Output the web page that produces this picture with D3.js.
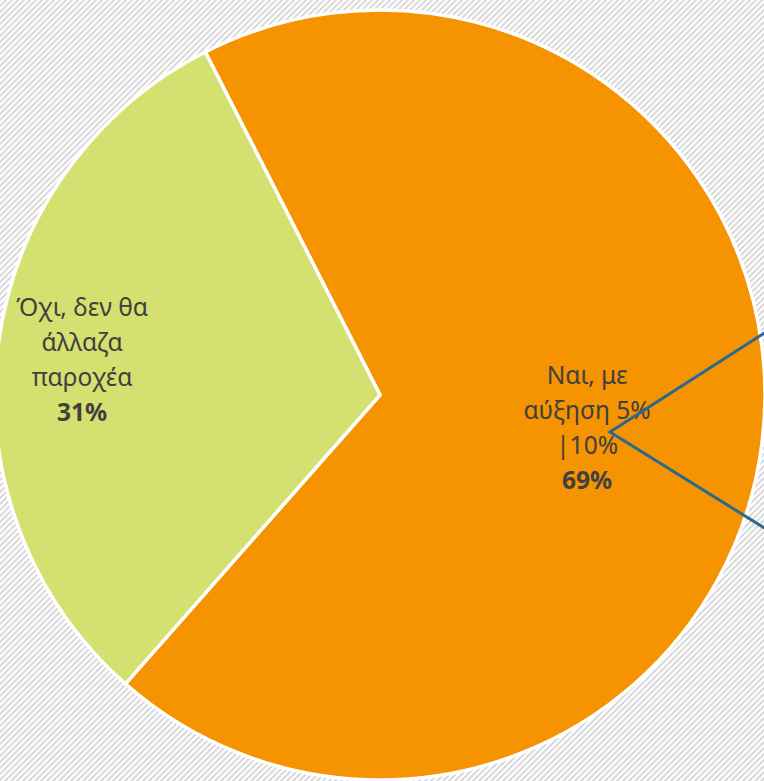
<!DOCTYPE html>
<html>
<head>
<meta charset="utf-8">
<script src="https://cdn.jsdelivr.net/npm/d3@7"></script>
<style>
  html, body { margin: 0; padding: 0; background: #fff; }
  svg { display: block; }
</style>
</head>
<body>
<div id="chart"></div>
<script>
// Chart data
var categories = ["Ναι, με αύξηση 5% |10%", "Όχι, δεν θα άλλαζα παροχέα"];
var values = [69, 31];
var labelLines = [["Ναι, με", "αύξηση 5%", "|10%"], ["Όχι, δεν θα", "άλλαζα", "παροχέα"]];
var colors = ["#f59300", "#d4e06f"];

var svgWidth = 764;
var svgHeight = 781;
var cx = 380, cy = 395, radius = 385;

var svg = d3.select("#chart")
    .append("svg")
    .attr("width", svgWidth)
    .attr("height", svgHeight);

// Hatched background
var defs = svg.append("defs");
var pat = defs.append("pattern")
    .attr("id", "hatch")
    .attr("patternUnits", "userSpaceOnUse")
    .attr("width", 6)
    .attr("height", 6);
pat.append("rect").attr("width", 6).attr("height", 6).attr("fill", "#ffffff");
pat.append("path")
    .attr("d", "M-1,1 l2,-2 M0,6 l6,-6 M5,7 l2,-2")
    .attr("stroke", "#d9d9d9")
    .attr("stroke-width", 2);

svg.append("rect")
    .attr("width", svgWidth)
    .attr("height", svgHeight)
    .attr("fill", "url(#hatch)");

var chartGroup = svg.append("g")
    .attr("transform", `translate(${cx}, ${cy})`);

var pie = d3.pie()
    .sort(null)
    .startAngle(-27 * Math.PI / 180)
    .endAngle(333 * Math.PI / 180);

var arc = d3.arc().innerRadius(0).outerRadius(radius);

var arcs = pie(values);

chartGroup.selectAll("path.slice")
    .data(arcs)
    .enter()
    .append("path")
    .attr("class", "slice")
    .attr("d", arc)
    .attr("fill", (d, i) => colors[i])
    .attr("stroke", "#ffffff")
    .attr("stroke-width", 3.5)
    .attr("stroke-linejoin", "miter");

// Label placement (radius fraction along mid angle, and nudge)
var labelRadius = [0.55, 0.78];
var labelNudge = [[-3, 7], [0, 3]];
var fontSize = 24.5;
var lineH = 35;

arcs.forEach(function(d, i) {
    var mid = (d.startAngle + d.endAngle) / 2;
    var r = radius * labelRadius[i];
    var x = Math.sin(mid) * r + labelNudge[i][0];
    var y = -Math.cos(mid) * r + labelNudge[i][1];
    var lines = labelLines[i].concat([values[i] + "%"]);
    var t = chartGroup.append("text")
        .attr("text-anchor", "middle")
        .attr("font-family", "'Noto Sans', 'Open Sans', sans-serif")
        .attr("font-size", fontSize)
        .attr("fill", "#404040");
    lines.forEach(function(line, j) {
        t.append("tspan")
            .attr("x", x)
            .attr("y", y + (j - (lines.length - 1) / 2) * lineH + 8)
            .attr("font-weight", j === lines.length - 1 ? "bold" : "normal")
            .text(line);
    });
});

// Blue callout lines (annotation shape)
var vertex = [610 - cx, 432 - cy];
var callout = d3.line();
chartGroup.append("path")
    .attr("d", callout([[svgWidth - cx + 2, 332 - cy], vertex, [svgWidth - cx + 2, 529 - cy]]))
    .attr("fill", "none")
    .attr("stroke", "#2b6a8e")
    .attr("stroke-width", 3);
</script>
</body>
</html>
